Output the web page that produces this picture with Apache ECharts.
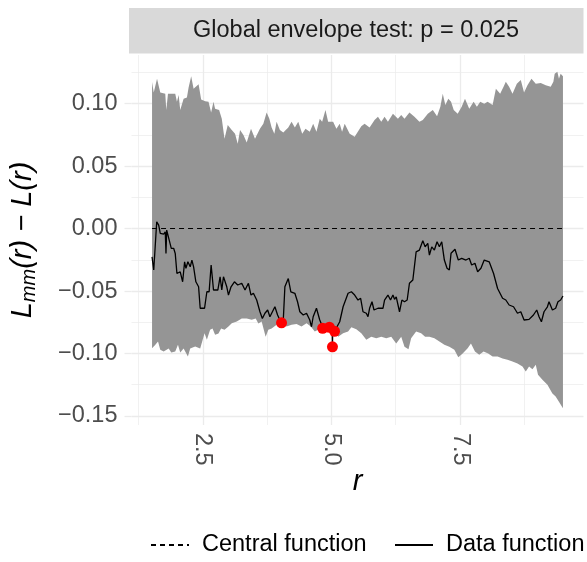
<!DOCTYPE html>
<html><head><meta charset="utf-8">
<script src="https://cdn.jsdelivr.net/npm/echarts@6/dist/echarts.min.js"></script>
<style>html,body{margin:0;padding:0;background:#fff}#c{width:587px;height:562px}</style>
</head><body><div id="c"></div>
<script>
// ---- data ----
const upperR = [1.512,1.545,1.609,1.672,1.769,1.789,1.822,1.963,1.996,2.029,
  2.060,2.126,2.190,2.223,2.273,2.320,2.417,2.467,2.545,2.610,
  2.661,2.707,2.738,2.816,2.868,2.921,2.984,3.062,3.126,3.178,
  3.223,3.289,3.353,3.436,3.514,3.610,3.676,3.740,3.793,3.837,
  3.890,3.934,3.998,4.064,4.161,4.225,4.289,4.355,4.432,4.496,
  4.579,4.645,4.709,4.773,4.820,4.884,4.936,5.033,5.097,5.161,
  5.207,5.258,5.355,5.452,5.581,5.645,5.742,5.839,5.905,5.969,
  6.033,6.099,6.196,6.293,6.357,6.421,6.517,6.614,6.711,6.777,
  6.874,6.971,7.054,7.118,7.165,7.215,7.273,7.326,7.378,7.455,
  7.533,7.597,7.680,7.765,7.829,7.893,7.971,8.037,8.134,8.198,
  8.281,8.347,8.391,8.455,8.521,8.605,8.682,8.746,8.812,8.890,
  8.973,9.070,9.167,9.264,9.316,9.341,9.393,9.424,9.457,9.502];
const upperV = [0.1174,0.109,0.120,0.109,0.108,0.095,0.108,0.108,0.1015,0.107,
  0.095,0.104,0.105,0.113,0.122,0.112,0.1156,0.1034,0.102,0.1015,
  0.093,0.1015,0.096,0.095,0.088,0.072,0.083,0.079,0.076,0.068,
  0.079,0.075,0.069,0.080,0.072,0.080,0.084,0.093,0.088,0.081,
  0.076,0.0855,0.079,0.077,0.081,0.0855,0.081,0.0855,0.076,0.080,
  0.0775,0.084,0.0775,0.088,0.0855,0.095,0.0855,0.0855,0.080,0.084,
  0.0775,0.084,0.076,0.0735,0.082,0.084,0.081,0.087,0.0895,0.0855,
  0.0895,0.0855,0.092,0.088,0.091,0.088,0.093,0.0895,0.0855,0.087,
  0.092,0.095,0.090,0.0975,0.108,0.099,0.104,0.1015,0.095,0.092,
  0.0975,0.104,0.096,0.1015,0.0975,0.1015,0.100,0.1015,0.099,0.112,
  0.108,0.1135,0.1175,0.1135,0.108,0.116,0.119,0.109,0.1148,0.120,
  0.116,0.1166,0.1148,0.1135,0.1175,0.124,0.1255,0.120,0.124,0.122];
const lowerR = [1.512,1.576,1.628,1.672,1.738,1.835,1.886,1.963,2.016,2.060,
  2.126,2.209,2.254,2.351,2.448,2.533,2.578,2.641,2.688,2.738,
  2.804,2.855,2.921,2.998,3.062,3.159,3.256,3.353,3.450,3.527,
  3.579,3.643,3.721,3.773,3.837,3.934,4.031,4.128,4.225,4.322,
  4.419,4.516,4.599,4.676,4.742,4.806,4.900,5.000,5.060,5.130,5.227,5.324,
  5.388,5.484,5.581,5.678,5.775,5.872,5.969,6.066,6.163,6.260,
  6.357,6.421,6.498,6.550,6.647,6.744,6.822,6.905,7.002,7.099,
  7.196,7.293,7.390,7.467,7.552,7.649,7.713,7.791,7.874,7.959,
  8.048,8.134,8.231,8.328,8.424,8.521,8.618,8.715,8.779,8.843,
  8.909,8.973,9.017,9.103,9.200,9.297,9.360,9.424,9.502];
const lowerV = [-0.0959,-0.093,-0.0905,-0.097,-0.0985,-0.096,-0.0993,-0.0985,-0.093,-0.0993,
  -0.096,-0.1025,-0.096,-0.0945,-0.096,-0.0838,-0.089,-0.081,-0.080,-0.085,
  -0.084,-0.080,-0.081,-0.0785,-0.0758,-0.0745,-0.072,-0.072,-0.073,-0.072,
  -0.076,-0.0745,-0.0866,-0.081,-0.080,-0.077,-0.0745,-0.0785,-0.077,-0.0764,
  -0.0785,-0.0758,-0.0785,-0.0825,-0.081,-0.078,-0.077,-0.079,-0.080,-0.0866,-0.0838,-0.0825,
  -0.079,-0.0806,-0.0838,-0.089,-0.0866,-0.0878,-0.0866,-0.0878,-0.0866,-0.092,
  -0.0866,-0.0946,-0.0966,-0.0878,-0.0825,-0.0838,-0.0866,-0.0866,-0.0878,-0.0905,
  -0.093,-0.0946,-0.097,-0.103,-0.100,-0.0958,-0.092,-0.0985,-0.101,-0.0985,
  -0.100,-0.1025,-0.1025,-0.104,-0.105,-0.1065,-0.108,-0.1105,-0.1145,-0.1105,
  -0.1127,-0.109,-0.117,-0.121,-0.125,-0.132,-0.1345,-0.1386,-0.1438];
const dataR = [1.512,1.545,1.576,1.603,1.641,1.672,1.738,1.769,1.783,1.797,
  1.835,1.886,1.932,1.963,1.996,2.060,2.107,2.145,2.171,2.209,
  2.254,2.287,2.320,2.364,2.417,2.448,2.533,2.578,2.622,2.661,
  2.707,2.791,2.835,2.868,2.901,2.965,2.998,3.048,3.114,3.178,
  3.256,3.320,3.386,3.436,3.483,3.547,3.610,3.657,3.707,3.760,
  3.804,3.837,3.901,3.953,3.998,4.031,4.064,4.095,4.161,4.211,
  4.289,4.341,4.386,4.452,4.516,4.579,4.612,4.645,4.709,4.773,
  4.839,4.967,5.015,5.020,5.025,5.064,5.161,5.227,5.324,5.388,
  5.452,5.517,5.568,5.614,5.678,5.711,5.742,5.789,5.828,5.905,
  6.002,6.033,6.099,6.149,6.196,6.227,6.260,6.324,6.370,6.421,
  6.473,6.517,6.583,6.647,6.711,6.777,6.822,6.874,6.905,6.951,
  7.002,7.054,7.099,7.145,7.196,7.248,7.293,7.326,7.403,7.467,
  7.533,7.616,7.680,7.727,7.791,7.843,7.907,7.971,8.068,8.153,
  8.231,8.328,8.391,8.455,8.541,8.618,8.682,8.746,8.843,8.928,
  8.992,9.037,9.083,9.134,9.200,9.231,9.297,9.360,9.405,9.457,
  9.502];
const dataV = [-0.0226,-0.0332,-0.0332,0.0054,0.0028,-0.0038,-0.0044,-0.0026,-0.020,-0.0012,
  -0.0026,-0.0158,-0.0158,-0.020,-0.036,-0.0346,-0.0426,-0.0266,-0.0318,-0.0266,
  -0.0306,-0.0252,-0.0306,-0.0426,-0.0466,-0.0638,-0.0638,-0.0506,-0.0506,-0.0292,
  -0.0492,-0.0492,-0.0386,-0.0492,-0.0386,-0.0466,-0.0532,-0.0466,-0.0426,-0.0452,
  -0.0438,-0.0492,-0.0438,-0.0532,-0.0518,-0.0572,-0.0666,-0.072,-0.0678,-0.0652,
  -0.0706,-0.072,-0.0626,-0.0692,-0.0732,-0.0758,-0.0732,-0.0466,-0.040,-0.0506,
  -0.0518,-0.0586,-0.0666,-0.0692,-0.0678,-0.0732,-0.0786,-0.0706,-0.0638,-0.0732,
  -0.0798,-0.078,-0.081,-0.0946,-0.082,-0.082,-0.0746,-0.0626,-0.0518,-0.0506,
  -0.0532,-0.0572,-0.0558,-0.0666,-0.0678,-0.0706,-0.0638,-0.0586,-0.0652,-0.0638,
  -0.0638,-0.0572,-0.0532,-0.0572,-0.0532,-0.0566,-0.0546,-0.0666,-0.0572,-0.0586,
  -0.0572,-0.0438,-0.0412,-0.0186,-0.0172,-0.0098,-0.0146,-0.0118,-0.0212,-0.0146,
  -0.0172,-0.0106,-0.0146,-0.0106,-0.0252,-0.0318,-0.0332,-0.0198,-0.0166,-0.0252,
  -0.0238,-0.0252,-0.0238,-0.0292,-0.0278,-0.0346,-0.0318,-0.0252,-0.0266,-0.036,
  -0.048,-0.0558,-0.0572,-0.0612,-0.0626,-0.0678,-0.0666,-0.0732,-0.0727,-0.0692,
  -0.0652,-0.0706,-0.0746,-0.0666,-0.0626,-0.0586,-0.0652,-0.0638,-0.0586,-0.0572,
  -0.054];
const centralR = [1.512, 9.502];
const centralV = [0, 0];
const outsideR = [4.03, 4.83, 4.96, 5.06, 5.02];
const outsideV = [-0.0755, -0.0798, -0.079, -0.0822, -0.0947];

const xTickValues = [2.5, 5, 7.5];
const xTickLabels = ['2.5', '5.0', '7.5'];
const xMinorValues = [1.25, 3.75, 6.25, 8.75];
const yTickValues = [-0.15, -0.1, -0.05, 0, 0.05, 0.1];
const yTickLabels = ['\u22120.15', '\u22120.10', '\u22120.05', '0.00', '0.05', '0.10'];
const yMinorValues = [-0.125, -0.075, -0.025, 0.025, 0.075, 0.125];
const stripTitle = 'Global envelope test: p = 0.025';
const legendNames = ['Central function', 'Data function'];

// ---- build ----
const FONT = '"Liberation Sans", Arial, Helvetica, sans-serif';
const zip = (a, b) => a.map((v, i) => [v, b[i]]);
const lab = (vals, labels) => v => { const i = vals.findIndex(t => Math.abs(t - v) < 1e-9); return i < 0 ? '' : labels[i]; };
// ggplot-like 5% expansion of data range
const allR = upperR.concat(lowerR, dataR);
const allV = upperV.concat(lowerV, dataV, outsideV);
const rMin = Math.min(...allR), rMax = Math.max(...allR);
const vMin = Math.min(...allV), vMax = Math.max(...allV);
const xMin = rMin - 0.05 * (rMax - rMin), xMax = rMax + 0.05 * (rMax - rMin);
const yMin = vMin - 0.05 * (vMax - vMin), yMax = vMax + 0.05 * (vMax - vMin);

const GRID = '#EBEBEB';
const legendBase = {
  top: 528, itemWidth: 38, itemHeight: 14,
  itemStyle: { opacity: 0 },
  textStyle: { fontSize: 23.5, color: '#000', fontFamily: FONT, padding: [0, 0, 0, 8] }
};
const chart = echarts.init(document.getElementById('c'));
chart.setOption({
  animation: false,
  backgroundColor: '#ffffff',
  textStyle: { fontFamily: FONT },
  grid: { left: 129, right: 3.5, top: 55, bottom: 137, containLabel: false },
  graphic: [
    { type: 'rect', left: 129, top: 8, shape: { width: 454.5, height: 45.5 }, style: { fill: '#D9D9D9' }, silent: true },
    { type: 'text', x: 356, y: 31, style: { text: stripTitle, fontSize: 23.5, fontFamily: FONT, fill: '#1A1A1A', textAlign: 'center', textVerticalAlign: 'middle' }, silent: true }
  ],
  legend: [
    Object.assign({ data: [legendNames[0]], left: 145 }, legendBase),
    Object.assign({ data: [legendNames[1]], left: 389 }, legendBase)
  ],
  xAxis: [
    { type: 'value', min: xMin, max: xMax,
      axisLine: { show: false },
      axisTick: { show: false, customValues: xTickValues },
      axisLabel: { customValues: xTickValues, formatter: lab(xTickValues, xTickLabels), rotate: -90, margin: 8, fontSize: 23.5, color: '#4D4D4D', fontFamily: FONT },
      splitLine: { show: true, lineStyle: { color: GRID, width: 1.3 } },
      name: 'r', nameLocation: 'middle', nameGap: 42, nameMoveOverlap: false,
      nameTextStyle: { fontStyle: 'italic', fontSize: 29, color: '#000', fontFamily: FONT } },
    { type: 'value', min: xMin, max: xMax, position: 'bottom',
      axisLine: { show: false },
      axisTick: { show: false, customValues: xMinorValues },
      axisLabel: { show: false },
      splitLine: { show: true, lineStyle: { color: GRID, width: 0.7 } } }
  ],
  yAxis: [
    { type: 'value', min: yMin, max: yMax,
      axisLine: { show: false },
      axisTick: { show: true, length: 7, customValues: yTickValues, lineStyle: { color: GRID, width: 1.3 } },
      axisLabel: { customValues: yTickValues, formatter: lab(yTickValues, yTickLabels), margin: 14, fontSize: 23.5, color: '#4D4D4D', fontFamily: FONT },
      splitLine: { show: true, lineStyle: { color: GRID, width: 1.3 } },
      name: '{i|L}{s|mm}{i|(r) \u2212 L(r)}', nameLocation: 'middle', nameRotate: 90, nameGap: 92, nameMoveOverlap: false,
      nameTextStyle: { color: '#000', fontFamily: FONT,
        rich: { i: { fontStyle: 'italic', fontSize: 29, lineHeight: 34, color: '#000', fontFamily: FONT },
                s: { fontStyle: 'italic', fontSize: 20, lineHeight: 18, verticalAlign: 'bottom', color: '#000', fontFamily: FONT } } } },
    { type: 'value', min: yMin, max: yMax, position: 'left',
      axisLine: { show: false },
      axisTick: { show: false, customValues: yMinorValues },
      axisLabel: { show: false },
      splitLine: { show: true, lineStyle: { color: GRID, width: 0.7 } } }
  ],
  series: [
    { type: 'custom', name: 'envelope', silent: true, clip: true,
      data: [[upperR[0], upperV[0]]],
      renderItem: function (params, api) {
        const pts = [];
        for (let i = 0; i < upperR.length; i++) pts.push(api.coord([upperR[i], upperV[i]]));
        for (let i = lowerR.length - 1; i >= 0; i--) pts.push(api.coord([lowerR[i], lowerV[i]]));
        return { type: 'polygon', shape: { points: pts }, style: { fill: '#959595', stroke: null } };
      } },
    { type: 'line', name: legendNames[0], data: zip(centralR, centralV), symbol: 'none',
      lineStyle: { color: '#000', width: 1.1, type: [5, 4] }, itemStyle: { color: '#000' } },
    { type: 'line', name: legendNames[1], data: zip(dataR, dataV), symbol: 'none',
      lineStyle: { color: '#000', width: 1.3 }, itemStyle: { color: '#000' } },
    { type: 'scatter', name: 'outside', data: zip(outsideR, outsideV), symbol: 'circle', symbolSize: 11,
      itemStyle: { color: '#FF0000', opacity: 1 }, z: 5 }
  ]
});
</script></body></html>
